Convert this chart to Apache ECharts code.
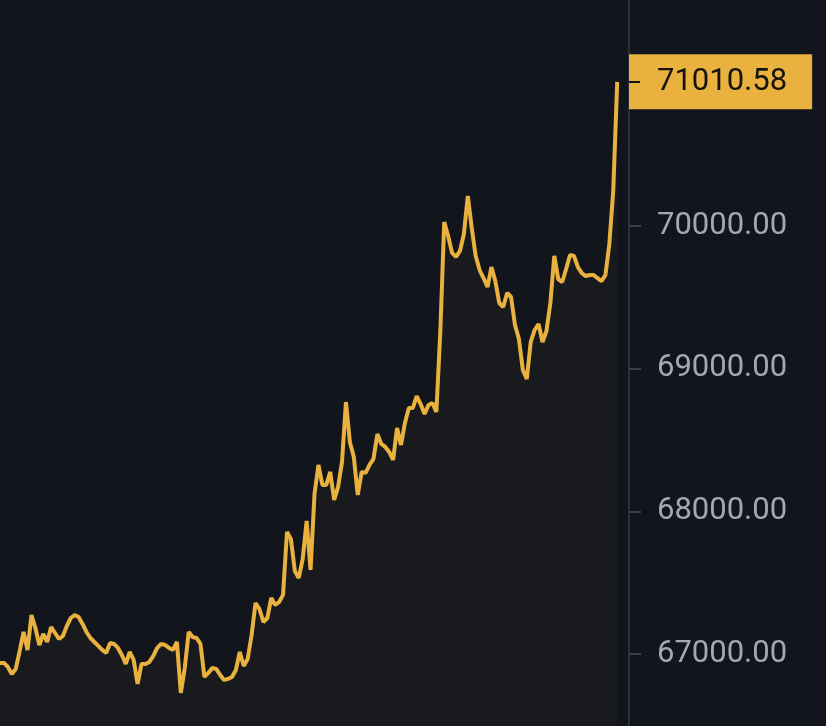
<!DOCTYPE html>
<html>
<head>
<meta charset="utf-8">
<title>Price</title>
<script src="https://cdn.jsdelivr.net/npm/echarts@6.0.0/dist/echarts.min.js"></script>
<style>
    html, body { margin: 0; padding: 0; background: #12151c; }
    #chart { width: 826px; height: 726px; }
</style>
</head>
<body>
<div id="chart"></div>
<script>
// price samples, evenly spaced
const prices = [
    66937, 66937, 66909, 66860, 66895, 67021, 67154, 67028, 67273, 67182,
    67063, 67140, 67084, 67189, 67147, 67105, 67126, 67196, 67252, 67273,
    67259, 67210, 67154, 67112, 67084, 67056, 67028, 67007, 67077, 67070,
    67042, 66993, 66930, 67014, 66958, 66790, 66930, 66930, 66944, 66986,
    67042, 67070, 67063, 67042, 67028, 67084, 66727, 66902, 67154, 67119,
    67112, 67070, 66839, 66867, 66902, 66895, 66853, 66818, 66825, 66839,
    66888, 67014, 66916, 66965, 67133, 67357, 67315, 67224, 67252, 67393,
    67343, 67364, 67414, 67855, 67806, 67582, 67533, 67666, 67932, 67589,
    68121, 68325, 68185, 68185, 68276, 68079, 68171, 68346, 68766, 68486,
    68381, 68114, 68276, 68269, 68325, 68368, 68542, 68472, 68451, 68416,
    68360, 68584, 68465, 68619, 68724, 68724, 68808, 68752, 68682, 68745,
    68759, 68696, 69257, 70028, 69930, 69811, 69783, 69825, 69944, 70210,
    69986, 69790, 69691, 69635, 69572, 69712, 69614, 69460, 69432, 69530,
    69502, 69306, 69208, 68991, 68927, 69187, 69271, 69313, 69187, 69264,
    69460, 69790, 69628, 69607, 69698, 69797, 69790, 69712, 69670, 69649,
    69656, 69656, 69635, 69614, 69656, 69874, 70252, 71010.58
];
const tickValues = [67000, 68000, 69000, 70000];
const lastPrice = prices[prices.length - 1];

// a few empty slots after the last price leave the gap before the axis
const slotCount = prices.length + 3;
const categories = Array.from({ length: slotCount }, (_, i) => String(i));

const gold = "#e9b13e";
const labelFont = "Roboto";

const chart = echarts.init(document.getElementById("chart"));

const baseAxis = {
    type: "value",
    position: "right",
    min: 66495,
    max: 71584,
    splitLine: { show: false },
};

chart.setOption({
    backgroundColor: "#12151c",
    animation: false,
    grid: { left: 0, right: 197, top: 0, bottom: 0 },
    xAxis: {
        type: "category",
        data: categories,
        boundaryGap: false,
        show: false,
    },
    yAxis: [
        {
            ...baseAxis,
            axisLine: { show: true, lineStyle: { color: "#2a2e3a", width: 2 } },
            axisTick: {
                show: true,
                customValues: tickValues,
                length: 12,
                lineStyle: { color: "#3b3f4b", width: 2 },
            },
            axisLabel: {
                customValues: tickValues,
                margin: 28,
                color: "#a4a8b0",
                fontFamily: labelFont,
                fontSize: 31,
                formatter: (v) => v.toFixed(2),
            },
        },
        {
            ...baseAxis,
            z: 3,
            axisLine: { show: false },
            axisTick: { show: false },
            axisLabel: {
                customValues: [lastPrice],
                margin: 0,
                color: "#16130c",
                backgroundColor: gold,
                padding: [12, 25, 12, 28],
                lineHeight: 31,
                fontFamily: labelFont,
                fontSize: 31,
                formatter: (v) => v.toFixed(2),
            },
        },
        {
            ...baseAxis,
            z: 4,
            axisLine: { show: false },
            axisLabel: { show: false },
            axisTick: {
                show: true,
                customValues: [lastPrice],
                length: 11,
                lineStyle: { color: "#111111", width: 2 },
            },
        },
    ],
    series: [
        {
            type: "line",
            data: prices,
            yAxisIndex: 0,
            symbol: "none",
            lineStyle: { color: gold, width: 4 },
            areaStyle: { color: "rgba(233, 177, 62, 0.05)" },
        },
    ],
});

window.addEventListener("resize", () => chart.resize());
</script>
</body>
</html>
